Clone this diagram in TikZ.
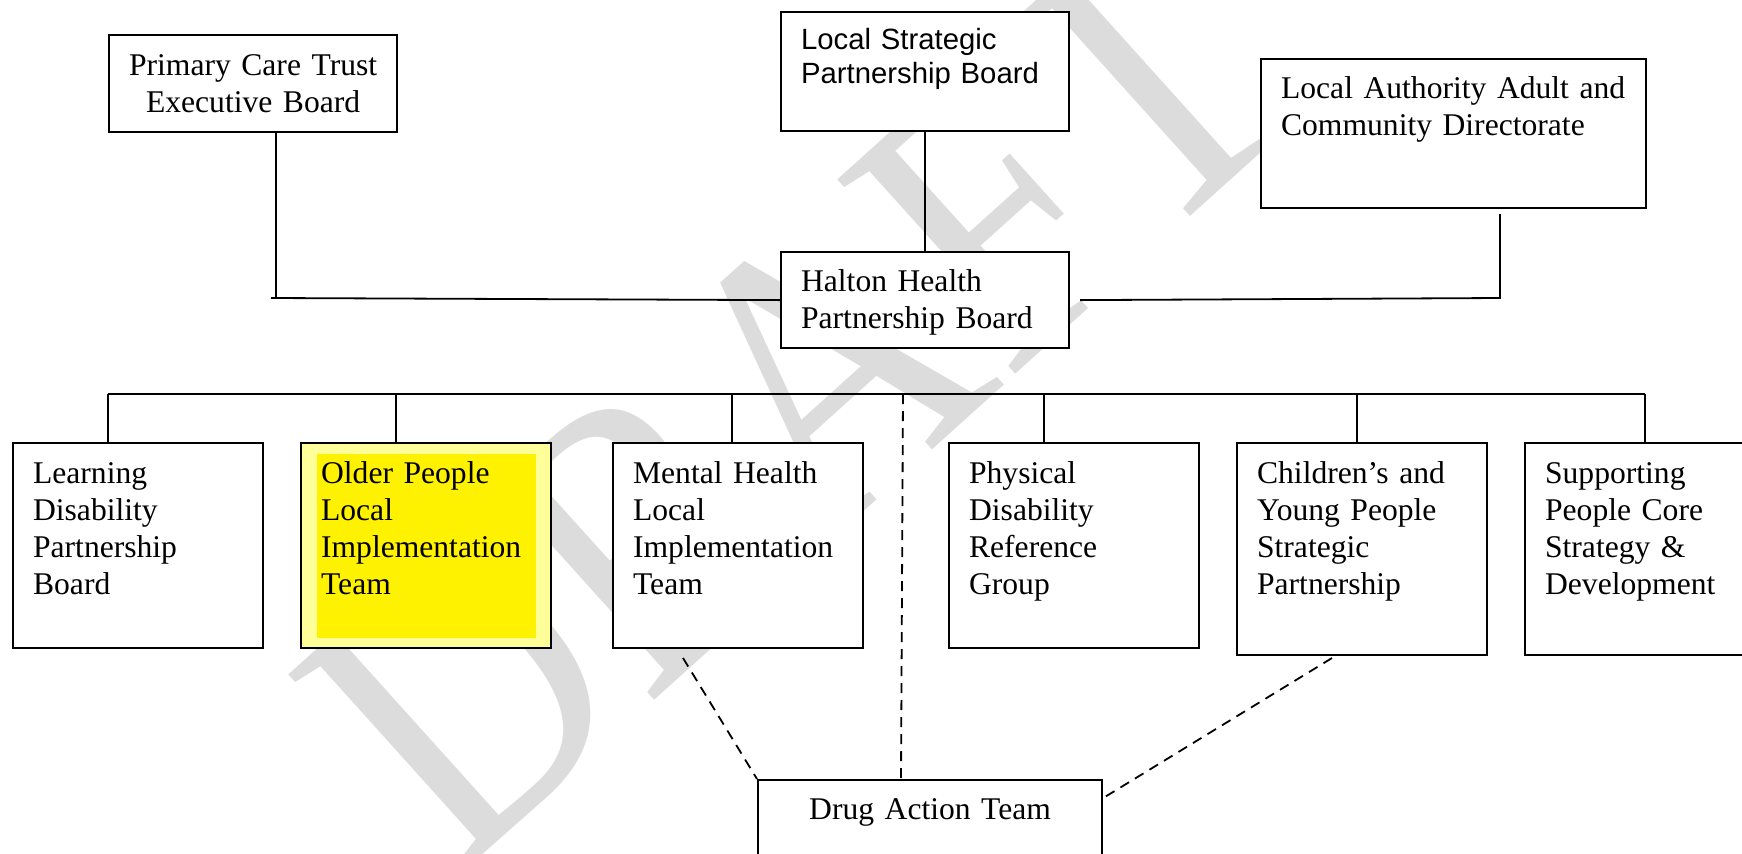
\documentclass[tikz,border=0pt]{standalone}
\usepackage{fontspec}
\setmainfont{Liberation Serif}
\newfontfamily\arialfont{Liberation Sans}
\definecolor{paleyellow}{HTML}{FFFF99}
\definecolor{wmgray}{HTML}{DCDCDC}
\tikzset{%
	box/.style={draw,line width=1.1pt,fill=white,inner xsep=10pt,inner ysep=0pt,anchor=north west,align=left,font=\fontsize{15.8}{18.5}\selectfont},
	midbox/.style={box,inner xsep=0pt,align=center},
	board/.style={box,text width=105pt,text height=20pt,text depth=82.5pt},
	tallboard/.style={board,text depth=86pt},
	link/.style={line width=0.9pt},
	dashlink/.style={line width=0.9pt,dash pattern=on 5pt off 3.5pt}
}

\begin{document}
\begin{tikzpicture}[x=0.5pt,y=-0.5pt]
		\useasboundingbox (0,0) rectangle (1742,853);
		\clip (0,0) rectangle (1742,853);

		% watermark
		\node[font=\fontsize{175}{175}\selectfont,text=wmgray,rotate=42,inner sep=0pt] (draft) at (795,395) {\scalebox{1}[1.15]{DRAFT}};

		\node[midbox,text width=144pt,text height=20pt,text depth=28.5pt] (pct) at (108,34) {Primary Care Trust\\Executive Board};
		\node[box,font={\arialfont\fontsize{14.65}{17}\selectfont},text width=124pt,text height=18.5pt,text depth=41pt] (lsp) at (780,11) {Local Strategic\\Partnership Board};
		\node[box,text width=172.5pt,text height=19.5pt,text depth=55pt] (laa) at (1260,58) {Local Authority Adult and\\Community Directorate};
		\node[box,text width=124pt,text height=19.5pt,text depth=28.5pt] (hhp) at (780,251) {Halton Health\\Partnership Board};

		\node[board] (ld) at (12,442) {Learning\\Disability\\Partnership\\Board};
		\node[board,fill=paleyellow,path picture={\fill[yellow] ([shift={(16,11)}]path picture bounding box.north west) rectangle ([shift={(-15,-10)}]path picture bounding box.south east);}] (op) at (300,442) {Older People\\Local\\Implementation\\Team};
		\node[board] (mh) at (612,442) {Mental Health\\Local\\Implementation\\Team};
		\node[board] (pd) at (948,442) {Physical\\Disability\\Reference\\Group};
		\node[tallboard] (cyp) at (1236,442) {Children’s and\\Young People\\Strategic\\Partnership};
		\node[tallboard] (sp) at (1524,442) {Supporting\\People Core\\Strategy \&\\Development};

		\node[midbox,text width=172pt,text height=19.5pt,text depth=40pt] (dat) at (757,779) {Drug Action Team};

		\coordinate (pctfoot) at (276,298);
		\coordinate (laafoot) at (1500,298);
		\coordinate (busl) at (108,394);
		\coordinate (busr) at (1645,394);
		\coordinate (datbus) at (903,394);
		\coordinate (mhtail) at (683,658);
		\coordinate (cyptail) at (1332,658);

		\draw [link] (pct.south -| pctfoot)--(pctfoot);
		\draw [link] ([xshift=-2.5pt]pctfoot)--(hhp.west);
		\draw [link] (lsp.south)--(hhp.north);
		\draw [link] ([xshift=5pt]hhp.east)--(laafoot)--([yshift=-2.5pt]laafoot |- laa.south);

		\draw [link] (busl)--(busr);
		\foreach \nm/\x in {ld/108,op/396,mh/732,pd/1044,cyp/1357,sp/1645}
			\draw [link] (\x,0 |- busl)--(\x,0 |- \nm.north);

		\draw [dashlink] (datbus)--(901,0 |- dat.north);
		\draw [dashlink] (mhtail)--(dat.north west);
		\draw [dashlink] (cyptail)--([yshift=-9.5pt]dat.north east);

	\end{tikzpicture}
\end{document}
